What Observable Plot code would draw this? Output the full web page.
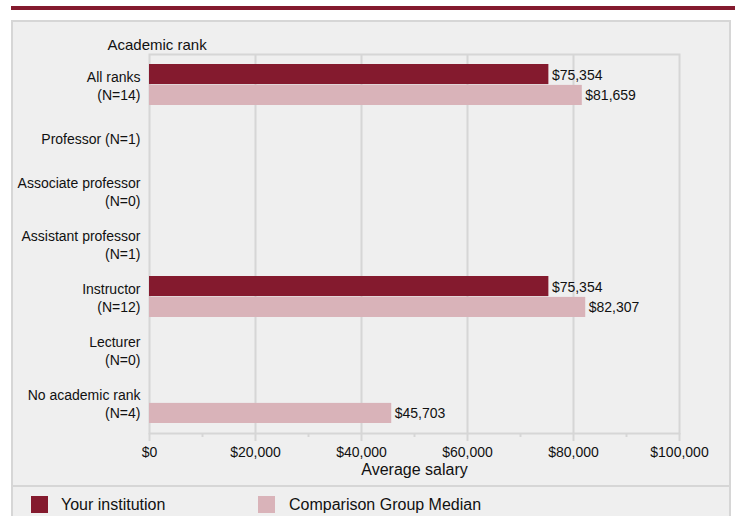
<!DOCTYPE html>
<html>
<head>
<meta charset="utf-8">
<script src="https://cdn.jsdelivr.net/npm/d3@7"></script>
<script src="https://cdn.jsdelivr.net/npm/@observablehq/plot@0.6"></script>
<style>
  html, body { margin: 0; padding: 0; background: #fff; width: 735px; height: 516px; overflow: hidden; font-family: "Liberation Sans", Arial, sans-serif; }
  #topbar { position: absolute; left: 11px; top: 6px; width: 724px; height: 4px; background: #841a2e; }
  #panel { position: absolute; left: 11px; top: 20px; width: 716px; height: 520px; background: #efefef; border: 2px solid #d6d6d6; box-sizing: content-box; }
  #sep { position: absolute; left: 11px; top: 485px; width: 718px; height: 2px; background: #d6d6d6; }
  #chart { position: absolute; left: 0; top: 0; }
  .leg { position: absolute; top: 496px; width: 17px; height: 17px; }
  .legt { position: absolute; top: 495px; font-size: 16px; line-height: 20px; color: #111; }
</style>
</head>
<body>
<div id="topbar"></div>
<div id="panel"></div>
<div id="sep"></div>
<div id="chart"></div>
<div class="leg" style="left:31px;background:#841a2e"></div>
<div class="legt" style="left:61px">Your institution</div>
<div class="leg" style="left:258px;background:#d9b3b9"></div>
<div class="legt" style="left:289px">Comparison Group Median</div>
<script>
const ranks = [
  "All ranks\n(N=14)",
  "Professor (N=1)",
  "Associate professor\n(N=0)",
  "Assistant professor\n(N=1)",
  "Instructor\n(N=12)",
  "Lecturer\n(N=0)",
  "No academic rank\n(N=4)"
];
const yourInstitution = [75354, null, null, null, 75354, null, null];
const comparisonMedian = [81659, null, null, null, 82307, null, 45703];
const xTicks = [0, 20000, 40000, 60000, 80000, 100000];
const xMinorTicks = [10000, 30000, 50000, 70000, 90000];
const gridTicks = [20000, 40000, 60000, 80000];

const DARK = "#841a2e", LIGHT = "#d9b3b9", GRID = "#d6d6d6";
const fmt = d => "$" + d3.format(",")(d);

const yours = ranks.map((r, i) => ({rank: r, value: yourInstitution[i]})).filter(d => d.value != null);
const comp = ranks.map((r, i) => ({rank: r, value: comparisonMedian[i]})).filter(d => d.value != null);

const chart = Plot.plot({
  width: 735,
  height: 486,
  marginLeft: 149,
  marginRight: 56,
  marginTop: 54,
  marginBottom: 53,
  style: {background: "transparent", fontFamily: "'Liberation Sans', Arial, sans-serif", fontSize: "14px", color: "#111"},
  x: {domain: [0, 100000]},
  y: {domain: ranks, paddingInner: 0.22, paddingOuter: 0.15},
  marks: [
    Plot.gridX(gridTicks, {stroke: GRID, strokeOpacity: 1, strokeWidth: 2}),
    Plot.frame({stroke: GRID, strokeWidth: 2}),
    Plot.axisX({ticks: xMinorTicks, tickSize: 4, tickFormat: () => "", stroke: GRID, strokeWidth: 2, label: null}),
    Plot.axisX({ticks: xTicks, tickSize: 8, tickPadding: 6, tickFormat: fmt, stroke: GRID, strokeWidth: 2, fill: "#111", fontSize: 14, label: null}),
    Plot.axisY({tickSize: 0, tickPadding: 9, fontSize: 14, lineHeight: 1.28, fill: "#111", label: null}),
    Plot.barX(yours, {x: "value", y: "rank", fill: DARK, insetBottom: 20.9}),
    Plot.barX(comp, {x: "value", y: "rank", fill: LIGHT, insetTop: 20.9}),
    Plot.text(yours, {x: "value", y: "rank", text: d => fmt(d.value), dx: 3, dy: -9.5, textAnchor: "start", fontSize: 14, fill: "#111"}),
    Plot.text(comp, {x: "value", y: "rank", text: d => fmt(d.value), dx: 3, dy: 11, textAnchor: "start", fontSize: 14, fill: "#111"}),
    Plot.text(["Academic rank"], {frameAnchor: "top-left", dx: -42, dy: -15, textAnchor: "start", fontSize: 15, fill: "#111"}),
    Plot.text(["Average salary"], {frameAnchor: "bottom", dy: 41, fontSize: 16, fill: "#111"})
  ]
});
document.getElementById("chart").appendChild(chart);
</script>
</body>
</html>
